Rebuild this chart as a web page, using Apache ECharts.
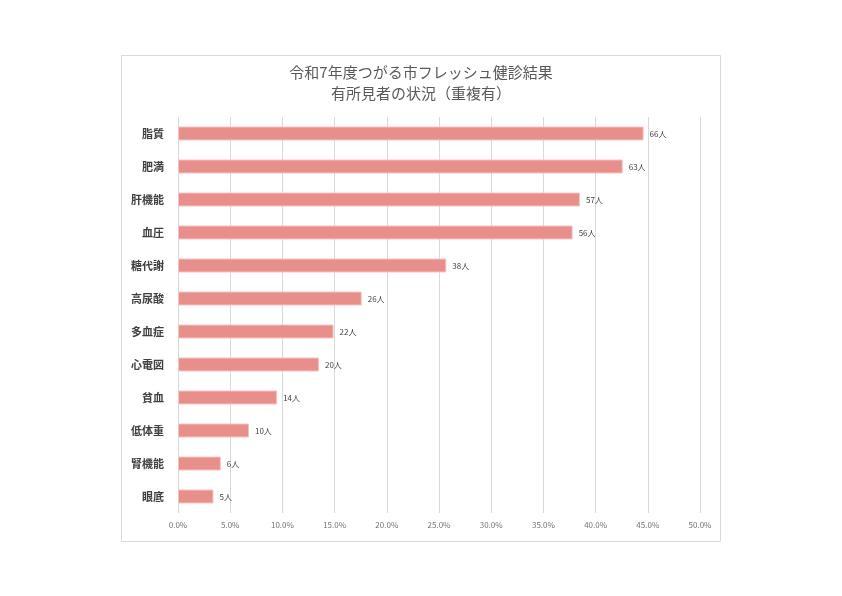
<!DOCTYPE html>
<html style="height:100%">
<head>
    <meta charset="utf-8">
    <title>ECharts</title>
    <script src="https://cdn.jsdelivr.net/npm/echarts@6/dist/echarts.min.js"></script>
</head>
<body style="height:100%;margin:0;background:#fff">
    <div id="main" style="width:842px;height:596px;"></div>
    <script type="text/javascript">
        // 項目（上から）
        var categories = ['脂質', '肥満', '肝機能', '血圧', '糖代謝', '高尿酸', '多血症', '心電図', '貧血', '低体重', '腎機能', '眼底'];
        // 有所見者数（人）
        var counts = [66, 63, 57, 56, 38, 26, 22, 20, 14, 10, 6, 5];
        // 割合（%）
        var percents = [44.6, 42.6, 38.5, 37.8, 25.7, 17.6, 14.9, 13.5, 9.5, 6.8, 4.1, 3.4];
        var titleLines = ['令和7年度つがる市フレッシュ健診結果', '有所見者の状況（重複有）'];

        var font = '"Noto Sans CJK JP", sans-serif';
        var myChart = echarts.init(document.getElementById('main'));

        var option = {
            backgroundColor: '#fff',
            animation: false,
            graphic: [{
                type: 'rect',
                shape: { x: 121.5, y: 55.5, width: 599, height: 486 },
                style: { fill: 'none', stroke: '#d9d9d9', lineWidth: 1 },
                silent: true
            }],
            title: {
                text: titleLines.join('\n'),
                left: 'center',
                top: 57,
                textStyle: {
                    color: '#595959',
                    fontSize: 15,
                    fontWeight: 'normal',
                    fontFamily: font,
                    lineHeight: 21
                }
            },
            grid: {
                left: 178,
                width: 522,
                top: 117,
                height: 396
            },
            xAxis: {
                type: 'value',
                min: 0,
                max: 50,
                interval: 5,
                axisLine: { show: false },
                axisTick: { show: false },
                axisLabel: {
                    color: '#737373',
                    fontSize: 8,
                    fontFamily: font,
                    margin: 8,
                    formatter: function (v) { return v.toFixed(1) + '%'; }
                },
                splitLine: {
                    show: true,
                    lineStyle: { color: '#d9d9d9', width: 1 }
                }
            },
            yAxis: {
                type: 'category',
                inverse: true,
                data: categories,
                axisLine: { show: false },
                axisTick: { show: false },
                axisLabel: {
                    color: '#404040',
                    fontSize: 11,
                    fontWeight: 'bold',
                    fontFamily: font,
                    margin: 14
                }
            },
            series: [{
                type: 'bar',
                barWidth: 14,
                data: percents,
                itemStyle: {
                    color: '#e88f8c',
                    borderColor: '#f2c4c2',
                    borderWidth: 1
                },
                label: {
                    show: true,
                    position: 'right',
                    distance: 6,
                    color: '#404040',
                    fontSize: 8,
                    fontFamily: font,
                    formatter: function (p) { return counts[p.dataIndex] + '人'; }
                }
            }]
        };

        myChart.setOption(option);
    </script>
</body>
</html>
